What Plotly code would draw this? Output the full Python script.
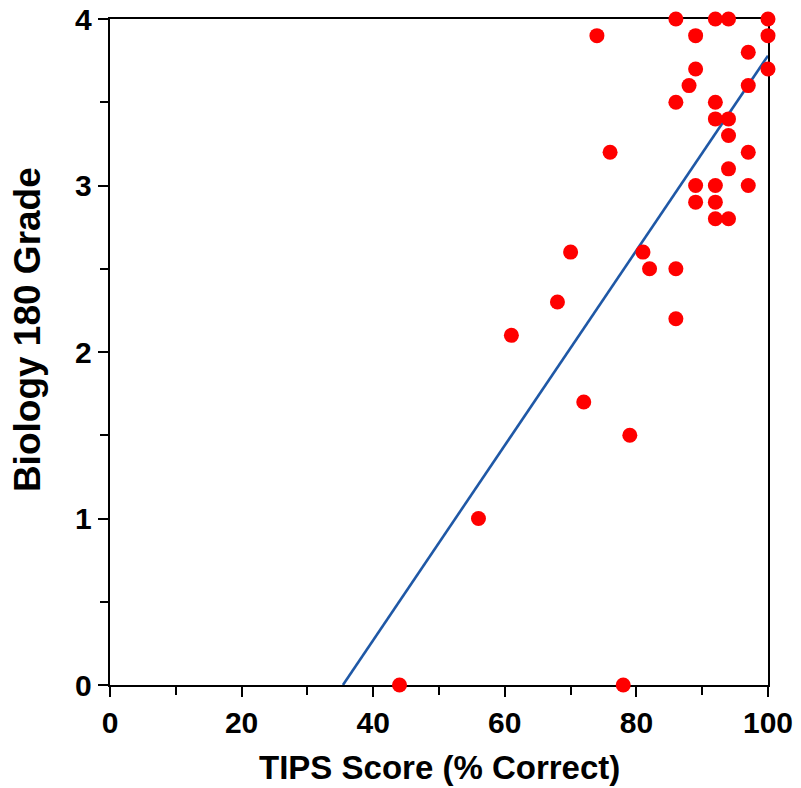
import plotly.graph_objects as go

# TIPS score (% correct) and Biology 180 grade for each student
tips_score = [86, 92, 94, 100, 74, 89, 100, 97, 100, 89, 88, 97, 86, 92, 92, 94, 94,
              76, 97, 94, 89, 92, 97, 89, 92, 92, 94,
              70, 81, 82, 86, 68, 86, 61, 72, 79, 56, 44, 78]
bio_grade = [4.0, 4.0, 4.0, 4.0, 3.9, 3.9, 3.9, 3.8, 3.7, 3.7, 3.6, 3.6, 3.5, 3.5, 3.4, 3.4, 3.3,
             3.2, 3.2, 3.1, 3.0, 3.0, 3.0, 2.9, 2.9, 2.8, 2.8,
             2.6, 2.6, 2.5, 2.5, 2.3, 2.2, 2.1, 1.7, 1.5, 1.0, 0.0, 0.0]

# regression line end points
fit_x = [35.4, 100]
fit_y = [0.0, 3.78]

x_ticks = [0, 20, 40, 60, 80, 100]
y_ticks = [0, 1, 2, 3, 4]

FONT = "Liberation Sans, Arial, Helvetica, sans-serif"

fig = go.Figure()
fig.add_trace(go.Scatter(x=fit_x, y=fit_y, mode="lines",
                         line=dict(color="#1f58a6", width=2.6),
                         showlegend=False, hoverinfo="skip"))
fig.add_trace(go.Scatter(x=tips_score, y=bio_grade, mode="markers",
                         marker=dict(color="#ff0000", size=15, line=dict(width=0)),
                         cliponaxis=False, showlegend=False))

axis_common = dict(
    showline=True, linecolor="black", linewidth=2.4, mirror=True,
    showgrid=False, zeroline=False, automargin=False,
    ticks="outside", ticklen=10, tickwidth=2.4, tickcolor="black",
    layer="below traces", ticklabeloverflow="allow",
    tickfont=dict(family=FONT, size=30, color="black", weight="bold"),
)

fig.update_layout(
    width=793, height=780,
    margin=dict(l=102, r=33, t=11, b=103),
    paper_bgcolor="white", plot_bgcolor="white",
    xaxis=dict(range=[0, 100], tickvals=x_ticks, ticktext=[str(v) for v in x_ticks],
               minor=dict(ticks="outside", ticklen=8, tickwidth=2.4, tickcolor="black", dtick=10, showgrid=False),
               **axis_common),
    yaxis=dict(range=[0, 4], tickvals=y_ticks, ticktext=[str(v) for v in y_ticks],
               minor=dict(ticks="outside", ticklen=8, tickwidth=2.4, tickcolor="black", dtick=0.5, showgrid=False),
               **axis_common),
    annotations=[
        dict(text="TIPS Score (% Correct)", xref="paper", yref="paper",
             x=0.5, y=-0.124, showarrow=False, xanchor="center", yanchor="middle",
             font=dict(family=FONT, size=33, color="black", weight="bold")),
        dict(text="Biology 180 Grade", xref="paper", yref="paper",
             x=-0.125, y=0.534, textangle=-90, showarrow=False,
             xanchor="center", yanchor="middle",
             font=dict(family=FONT, size=37, color="black", weight="bold")),
    ],
)

fig.write_html("out.html")
